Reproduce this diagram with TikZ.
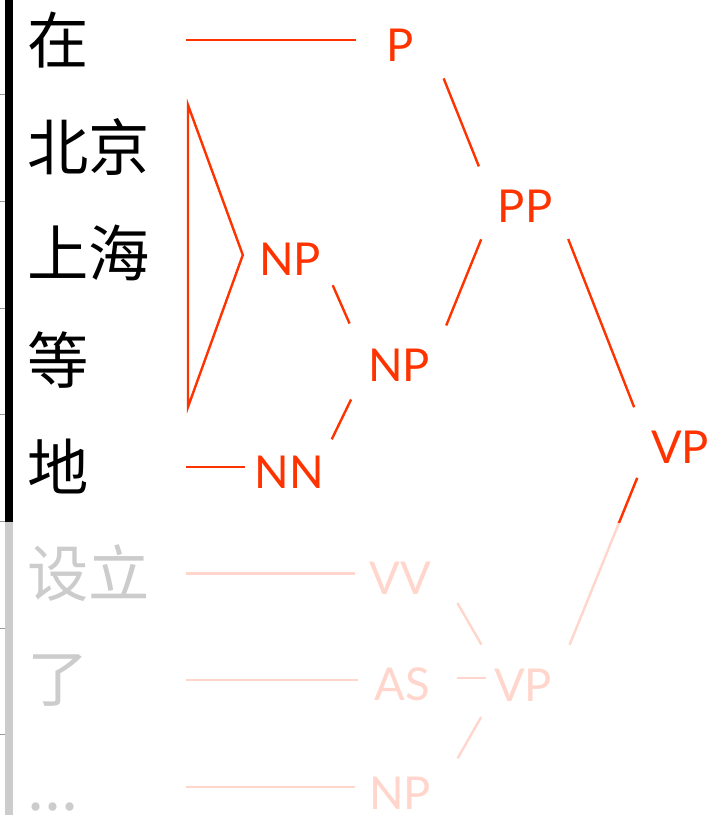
\documentclass[tikz,border=0pt]{standalone}
\usepackage{fontspec}
\newfontfamily\cjk{Noto Sans CJK SC}
\newfontfamily\catfont{Lato}
\usepackage{tikz}
\usepackage{xcolor}
\definecolor{TreeRed}{HTML}{FF3300}
\definecolor{TreeRedLight}{HTML}{FFD5CC}
\definecolor{WordGrey}{HTML}{CCCCCC}
\definecolor{TickGrey}{HTML}{999999}
\tikzset{
  wordnode/.style={anchor=west,inner sep=0pt,font=\cjk\fontsize{46}{50}\selectfont},
  fadeword/.style={wordnode,text=WordGrey},
  catnode/.style={inner sep=0pt,minimum width=45pt,text=TreeRed,font=\catfont\fontsize{34}{38}\selectfont},
  fadecat/.style={catnode,text=TreeRedLight},
  link/.style={draw=TreeRed,line width=1.8pt},
  fadelink/.style={link,draw=TreeRedLight},
  wordline/.style={link,shorten >=10.5pt},
  fadewordline/.style={fadelink,shorten >=10.5pt},
  tickline/.style={draw=TickGrey,line width=0.6pt}
}

\begin{document}
\begin{tikzpicture}[x=0.75pt,y=-0.75pt]
\useasboundingbox (0,0) rectangle (718,815);
% left rule with row ticks
\foreach \k in {0,...,6}{
  \draw[tickline] (0,94.5+106.7*\k) -- (9,94.5+106.7*\k);
}
\draw[line width=6pt] (9,0) -- (9,522);
\draw[line width=6pt,WordGrey] (9,522) -- (9,815);
% words
\foreach \w [count=\k from 0] in {在,北京,上海,等,地}{
  \node[wordnode] (w\k) at (27,40+106.7*\k) {\w};
}
\node[fadeword] (w5) at (27,40+106.7*5) {设立};
\node[fadeword] (w6) at (27,40+106.7*6) {了};
\node[fadeword] (w7) at (27,40+106.7*7) {\vphantom{地}...};
\coordinate (lx) at (186,0);
% categories
\node[catnode] (p) at (400,45) {P};
\node[catnode] (np1) at (290,259) {NP};
\node[catnode] (nn) at (289,472) {NN};
\node[catnode] (np2) at (399,365) {NP};
\node[catnode] (pp) at (525,206) {PP};
\node[catnode] (vp) at (680,447) {VP};
\node[fadecat] (vv) at (400,578) {VV};
\node[fadecat] (as) at (402,684) {AS};
\node[fadecat] (vp2) at (523,685) {VP};
\node[fadecat] (np3) at (400,793) {NP};
% faded part
\draw[fadewordline] (w5 -| lx) -- (w5 -| vv.west);
\draw[fadewordline] (w6 -| lx) -- (w6 -| as.west);
\draw[fadewordline] (w7 -| lx) -- (w7 -| np3.west);
\draw[fadelink,shorten <=21.7pt,shorten >=35pt] ([xshift=9pt]vv.east) -- ([xshift=9pt]vp2.west);
\draw[fadelink,shorten <=18.7pt,shorten >=5pt] ([yshift=4.5pt]as.east) -- ([yshift=4.5pt]as.east -| vp2.west);
\draw[fadelink,shorten <=30pt,shorten >=27.7pt] ([xshift=5pt]np3.east) -- ([xshift=5pt]vp2.west);
\draw[fadelink,shorten <=25pt,shorten >=32.5pt] (vp.west) -- (vp2.east);
\begin{scope}
  \clip (0,0) rectangle (718,522);
  \draw[link,shorten <=25pt,shorten >=32.5pt] (vp.west) -- (vp2.east);
\end{scope}
% red part
\draw[wordline] (w0 -| lx) -- (w0 -| p.west);
\draw[wordline,shorten >=6.5pt] (w4 -| lx) -- (w4 -| nn.west);
\coordinate (rooftop) at (188,105);
\coordinate (roofbot) at (188,407);
\draw[link] (rooftop) -- ([xshift=-12pt,yshift=3pt]np1.west) -- (roofbot) -- cycle;
\draw[link,shorten <=21.5pt,shorten >=34pt] (np1.east) -- (np2.west);
\draw[link,shorten <=13.5pt,shorten >=28.7pt] (nn.north east) -- (np2.west);
\draw[link,shorten <=32pt,shorten >=27pt] (np2.east) -- (pp.west);
\draw[link,shorten <=27pt,shorten >=32pt] (p.east) -- (pp.west);
\draw[link,shorten <=26.6pt,shorten >=32pt] (pp.east) -- (vp.west);
\end{tikzpicture}
\end{document}
